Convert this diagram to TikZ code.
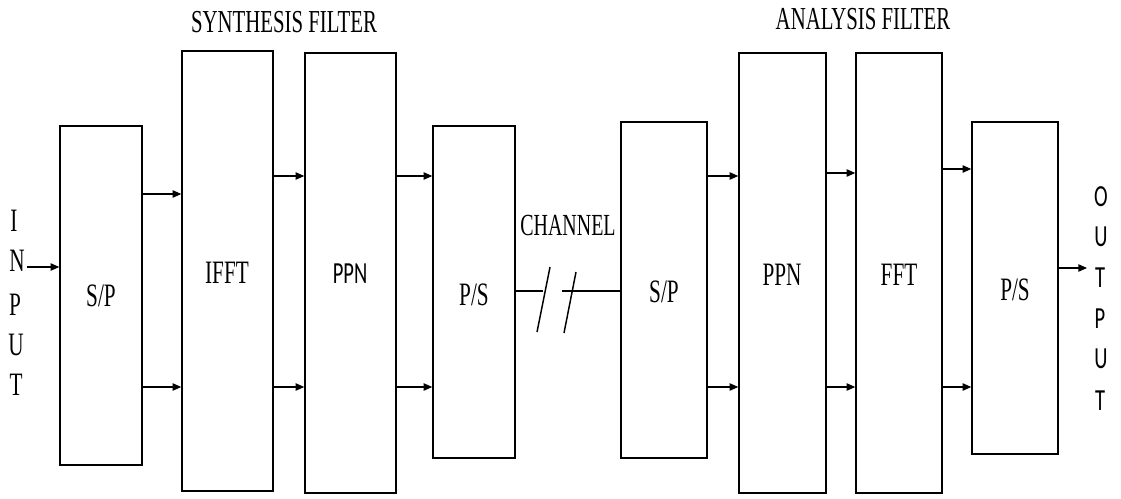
\documentclass[tikz,border=0pt]{standalone}
\usepackage{fontspec}
\usetikzlibrary{arrows.meta,fit}
\newfontfamily\cserif[FakeStretch=0.65]{Liberation Serif}
\newfontfamily\csans[FakeStretch=0.67]{Carlito}
\tikzset{
  box/.style={draw, line width=1.1pt, inner sep=0pt},
  lbl/.style={inner sep=0pt, anchor=base, font=\cserif\fontsize{24.5}{28}\selectfont},
  slbl/.style={inner sep=0pt, anchor=base, font=\csans\fontsize{23}{28}\selectfont},
  head/.style={inner sep=0pt, anchor=base, font=\cserif\fontsize{24}{28}\selectfont},
  arr/.style={line width=1.1pt, -{Triangle[length=6.5pt,width=5.5pt]}},
  wire/.style={line width=1.1pt},
}
\begin{document}
\begin{tikzpicture}[x=0.75pt, y=-0.75pt]
\useasboundingbox (0,0) rectangle (1121,499);
% boxes
\node[box, fit={(60,126) (142,465)}] (b1) {};
\node[box, fit={(182,51) (273,491)}] (b2) {};
\node[box, fit={(305,53) (396,493)}] (b3) {};
\node[box, fit={(433,126) (515,458)}] (b4) {};
\node[box, fit={(621,122) (707,458)}] (b5) {};
\node[box, fit={(739,53) (826,493)}] (b6) {};
\node[box, fit={(856,53) (942,493)}] (b7) {};
\node[box, fit={(972,122) (1058,454)}] (b8) {};
% box labels
\node[lbl] (t1) at (101,306) {S/P};
\node[lbl] (t2) at (227,283) {IFFT};
\node[slbl] (t3) at (350,283) {PPN};
\node[lbl] (t4) at (474,305) {P/S};
\node[lbl] (t5) at (664,302) {S/P};
\node[lbl] (t6) at (782,285) {PPN};
\node[lbl] (t7) at (899,285) {FFT};
\node[lbl] (t8) at (1015,300) {P/S};
% headings
\node[head] (h1) at (284,33) {SYNTHESIS FILTER};
\node[head] (h2) at (863,30) {ANALYSIS FILTER};
\node[head, font=\cserif\fontsize{23}{26}\selectfont] (h3) at (568,235) {CHANNEL};
% INPUT letters
\node[lbl] (i1) at (14,232) {I};
\node[lbl] (i2) at (17,272) {N};
\node[lbl] (i3) at (15,315) {P};
\node[lbl] (i4) at (16,355) {U};
\node[lbl] (i5) at (16,395) {T};
% OUTPUT letters
\node[slbl] (o1) at (1101,207) {O};
\node[slbl] (o2) at (1101,247) {U};
\node[slbl] (o3) at (1100,287) {T};
\node[slbl] (o4) at (1100,328) {P};
\node[slbl] (o5) at (1101,368) {U};
\node[slbl] (o6) at (1100,410) {T};
% levels
\coordinate (ya) at (0,194);
\coordinate (yb) at (0,176);
\coordinate (yc) at (0,173);
\coordinate (yd) at (0,169);
\coordinate (ylow) at (0,387);
\coordinate (yin) at (0,267);
\coordinate (yout) at (0,268);
\coordinate (inS) at (27,267);
\coordinate (outE) at (1087,268);
% arrows
\draw[arr] (inS) -- (b1.west |- yin);
\draw[arr] (b1.east |- ya) -- (b2.west |- ya);
\draw[arr] (b1.east |- ylow) -- (b2.west |- ylow);
\draw[arr] (b2.east |- yb) -- (b3.west |- yb);
\draw[arr] (b2.east |- ylow) -- (b3.west |- ylow);
\draw[arr] (b3.east |- yb) -- (b4.west |- yb);
\draw[arr] (b3.east |- ylow) -- (b4.west |- ylow);
\draw[arr] (b5.east |- yb) -- (b6.west |- yb);
\draw[arr] (b5.east |- ylow) -- (b6.west |- ylow);
\draw[arr] (b6.east |- yc) -- (b7.west |- yc);
\draw[arr] (b6.east |- ylow) -- (b7.west |- ylow);
\draw[arr] (b7.east |- yd) -- (b8.west |- yd);
\draw[arr] (b7.east |- ylow) -- (b8.west |- ylow);
\draw[arr] (b8.east |- yout) -- (outE);
% channel
\coordinate (cy) at (0,291);
\coordinate (c1) at (543,291);
\coordinate (c2) at (562,291);
\coordinate (s1a) at (537,332);
\coordinate (s1b) at (550,267);
\coordinate (s2a) at (564,333);
\coordinate (s2b) at (576,272);
\draw[wire] (b4.east |- cy) -- (c1);
\draw[wire] (c2) -- (b5.west |- cy);
\draw[wire] (s1a) -- (s1b);
\draw[wire] (s2a) -- (s2b);
\end{tikzpicture}
\end{document}
